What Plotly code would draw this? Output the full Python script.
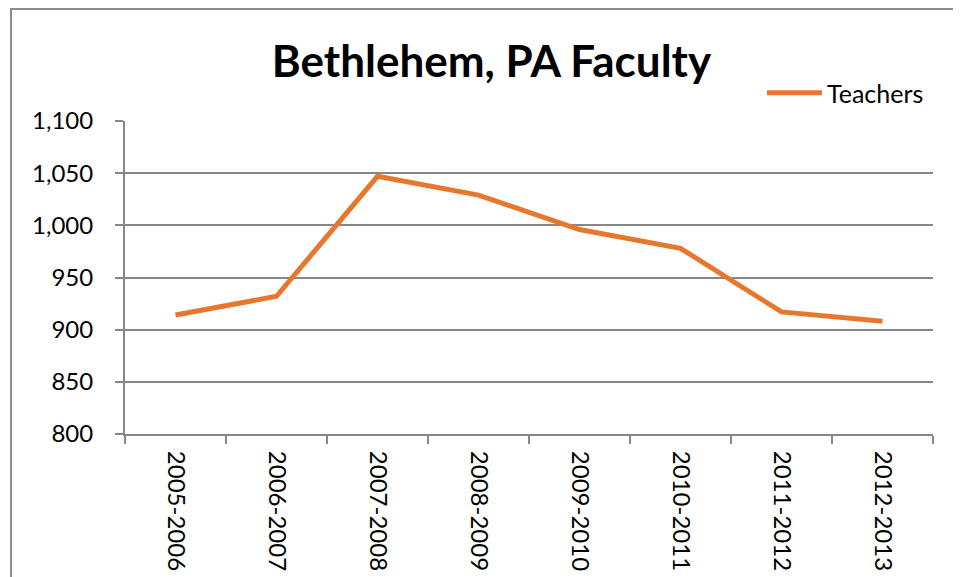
import plotly.graph_objects as go

years = ["2005-2006", "2006-2007", "2007-2008", "2008-2009",
         "2009-2010", "2010-2011", "2011-2012", "2012-2013"]
teachers = [914, 932, 1047, 1029, 996, 978, 917, 908]
y_ticks = [800, 850, 900, 950, 1000, 1050, 1100]

FONT = "Lato, Calibri, sans-serif"
GRID = "#878787"

# page body has an 8px margin -> work in figure coordinates (screen - 8)
OFF = 8
FW, FH = 961 - OFF, 577 - OFF
W0, W1, H0, H1 = 125 - OFF, 933 - OFF, 434 - OFF, 121 - OFF


def px_x(p):
    return (p - OFF - W0) / (W1 - W0)


def px_y(p):
    return (H0 - (p - OFF)) / (H0 - H1)


fig = go.Figure()
fig.add_trace(go.Scatter(
    x=years, y=teachers, mode="lines", name="Teachers",
    line=dict(color="#E8772E", width=5),
))

fig.update_layout(
    width=FW, height=FH,
    margin=dict(l=W0, r=FW - W1, t=H1, b=FH - H0),
    paper_bgcolor="white", plot_bgcolor="white",
    font=dict(family=FONT, color="black", size=24),
    title=dict(text="<b>Bethlehem, PA Faculty</b>",
               x=(491.5 - OFF) / FW, xanchor="center",
               y=1 - (62 - OFF) / FH, yanchor="middle",
               font=dict(size=44, family=FONT, color="black")),
    showlegend=True,
    legend=dict(x=px_x(762), y=px_y(93), xanchor="left", yanchor="middle",
                font=dict(size=25, family=FONT), bgcolor="rgba(0,0,0,0)",
                itemwidth=55),
    xaxis=dict(
        type="category", tickangle=90, showgrid=False, automargin=False,
        showline=True, linecolor=GRID, linewidth=2,
        ticks="outside", ticklen=8, tickcolor=GRID, tickwidth=2,
        tickson="boundaries", tickfont=dict(size=24, family=FONT),
        ticklabelstandoff=10,
        range=[-0.5, len(years) - 0.5],
    ),
    yaxis=dict(
        range=[800, 1100], tickvals=y_ticks, tickformat=",", automargin=False,
        showgrid=True, gridcolor=GRID, gridwidth=1.5,
        showline=True, linecolor=GRID, linewidth=2,
        ticks="outside", ticklen=8, tickcolor=GRID, tickwidth=2,
        tickfont=dict(size=24, family=FONT), zeroline=False,
        ticklabelstandoff=17,
    ),
    shapes=[dict(type="rect", xref="paper", yref="paper",
                 x0=px_x(11), x1=px_x(1000), y0=px_y(620), y1=px_y(9),
                 line=dict(color="#8C8C8C", width=2), fillcolor="rgba(0,0,0,0)",
                 layer="below")],
)

fig.write_html("out.html")
